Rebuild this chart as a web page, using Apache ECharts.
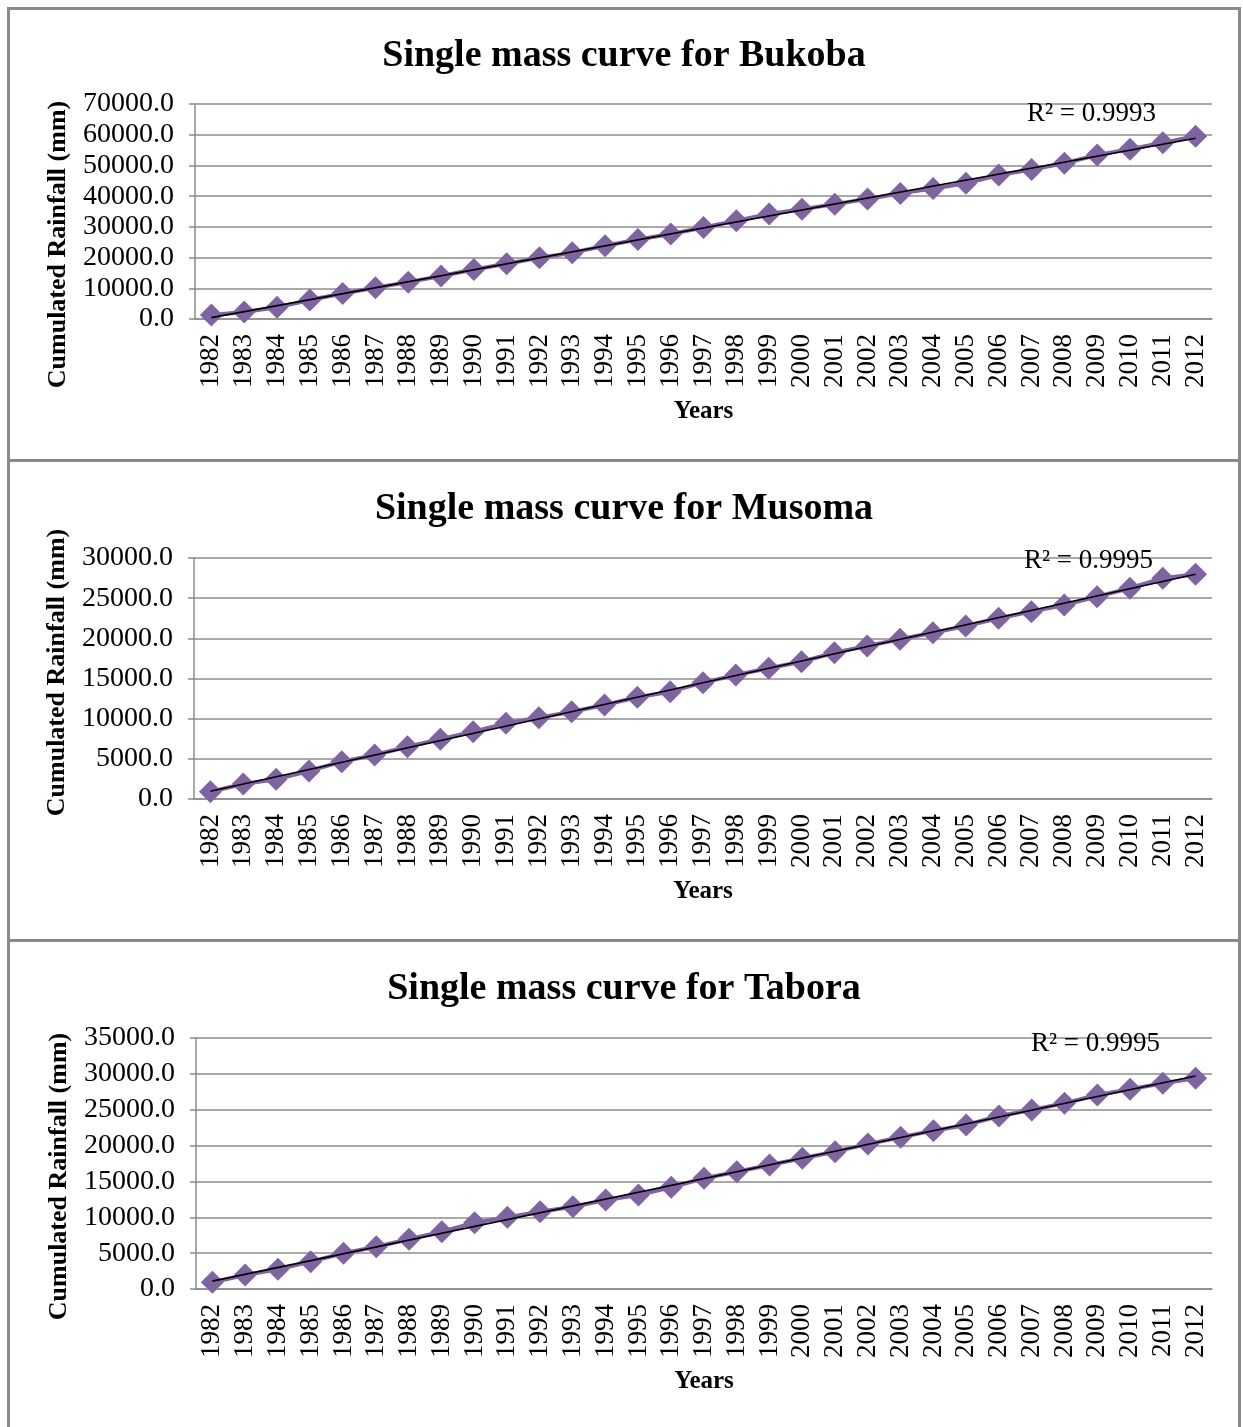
<!DOCTYPE html>
<html>
<head>
<meta charset="utf-8">
<title>Single mass curves</title>
<script src="https://cdn.jsdelivr.net/npm/echarts@6/dist/echarts.min.js"></script>
<style>
  html, body { margin: 0; padding: 0; background: #ffffff; }
  #chart { width: 1243px; height: 1427px; }
</style>
</head>
<body>
<div id="chart"></div>
<script>
// Years on the category axis
const years = ['1982','1983','1984','1985','1986','1987','1988','1989','1990','1991',
  '1992','1993','1994','1995','1996','1997','1998','1999','2000','2001',
  '2002','2003','2004','2005','2006','2007','2008','2009','2010','2011','2012'];

// Cumulated rainfall (mm) per station
const bukoba = [1300, 2300, 3800, 6200, 8300, 10200, 12000, 14000, 16100, 18000,
  19950, 21600, 23850, 25900, 27700, 29800, 32000, 34200, 35700, 37400,
  39100, 40900, 42500, 44200, 46900, 48700, 50700, 53400, 55300, 57400, 59500];
const musoma = [900, 1870, 2450, 3490, 4650, 5480, 6510, 7430, 8380, 9420,
  10120, 10870, 11700, 12660, 13360, 14480, 15440, 16270, 17090, 18210,
  19050, 19880, 20700, 21540, 22500, 23320, 24150, 25190, 26230, 27480, 27970];
const tabora = [930, 1950, 2740, 3810, 4980, 5900, 6930, 7990, 9250, 10000,
  10780, 11480, 12410, 13110, 14180, 15440, 16360, 17290, 18230, 19150,
  20220, 21150, 22080, 22870, 24130, 24960, 25900, 27050, 27850, 28680, 29400];

const stations = ['Bukoba', 'Musoma', 'Tabora'];
const axisMax = [70000, 30000, 35000];
const axisStep = [10000, 5000, 5000];
const r2Text = ['0.9993', '0.9995', '0.9995'];

const PURPLE = '#8064A2';
const GRID_GRAY = '#8c8c8c';
const SERIF = '"Liberation Serif", "Times New Roman", serif';

// Panel geometry (pixels)
const panels = [
  { top: 104, height: 215, left: 195, titleTop: 32, nameShift: 33, r2x: 1027, r2y: 114, boxTop: 8,   boxBottom: 460 },
  { top: 558, height: 241, left: 194, titleTop: 485, nameShift: -6, r2x: 1024, r2y: 561, boxTop: 460, boxBottom: 940 },
  { top: 1038, height: 251, left: 196, titleTop: 965, nameShift: 13, r2x: 1031, r2y: 1044, boxTop: 940, boxBottom: 1440 }
];
const values = [bukoba, musoma, tabora];

// Least-squares linear trend through a series, evaluated at first and last year
function trendEnds(arr) {
  const n = arr.length;
  let sx = 0, sy = 0, sxx = 0, sxy = 0;
  arr.forEach((y, i) => { sx += i; sy += y; sxx += i * i; sxy += i * y; });
  const b = (n * sxy - sx * sy) / (n * sxx - sx * sx);
  const a = (sy - b * sx) / n;
  return arr.map((_, i) => (i === 0 || i === n - 1) ? a + b * i : null);
}

const chart = echarts.init(document.getElementById('chart'), null, { renderer: 'canvas' });

const grid = [], xAxis = [], yAxis = [], series = [], title = [], graphic = [];

panels.forEach((p, k) => {
  grid.push({ left: p.left, right: 31, top: p.top, height: p.height, containLabel: false });

  title.push({
    text: 'Single mass curve for ' + stations[k],
    left: 619, top: p.titleTop, textAlign: 'center',
    textStyle: { fontFamily: SERIF, fontWeight: 'bold', fontSize: 38, color: '#000' }
  });

  xAxis.push({
    type: 'category', gridIndex: k, data: years, boundaryGap: true,
    name: 'Years', nameLocation: 'middle', nameGap: 80,
    nameTextStyle: { fontFamily: SERIF, fontWeight: 'bold', fontSize: 25, color: '#000' },
    axisLine: { show: true, lineStyle: { color: GRID_GRAY, width: 1.5 } },
    axisTick: { show: false },
    axisLabel: { rotate: 90, interval: 0, margin: 15, fontFamily: SERIF, fontSize: 27, color: '#000' },
    splitLine: { show: false }
  });

  const shift = p.nameShift;
  yAxis.push({
    type: 'value', gridIndex: k, min: 0, max: axisMax[k], interval: axisStep[k],
    name: 'Cumulated Rainfall (mm)', nameLocation: 'middle', nameGap: 124,
    nameTextStyle: {
      fontFamily: SERIF, fontWeight: 'bold', fontSize: 26, color: '#000',
      padding: shift >= 0 ? [0, 2 * shift, 0, 0] : [0, 0, 0, -2 * shift]
    },
    axisLine: { show: true, lineStyle: { color: GRID_GRAY, width: 1.5 } },
    axisTick: { show: true, length: 6, lineStyle: { color: GRID_GRAY, width: 1.5 } },
    axisLabel: {
      margin: 21, fontFamily: SERIF, fontSize: 28, color: '#000',
      formatter: v => v.toFixed(1)
    },
    splitLine: { show: true, lineStyle: { color: GRID_GRAY, width: 1.5 } }
  });

  series.push({
    name: stations[k], type: 'line', xAxisIndex: k, yAxisIndex: k,
    data: values[k],
    symbol: 'diamond', symbolSize: 23, showSymbol: true,
    lineStyle: { color: PURPLE, width: 4 },
    itemStyle: { color: PURPLE },
    emphasis: { disabled: true },
    z: 2
  });

  series.push({
    name: stations[k] + ' trend', type: 'line', xAxisIndex: k, yAxisIndex: k,
    data: trendEnds(values[k]), connectNulls: true,
    symbol: 'none',
    lineStyle: { color: '#000', width: 1.6 },
    emphasis: { disabled: true },
    z: 3
  });

  // Panel frame
  graphic.push({
    type: 'rect', silent: true,
    shape: { x: 8.5, y: p.boxTop + 0.5, width: 1231, height: p.boxBottom - p.boxTop },
    style: { fill: 'none', stroke: '#8a8a8a', lineWidth: 3 }
  });

  graphic.push({
    type: 'text', silent: true, x: p.r2x, y: p.r2y,
    style: {
      text: 'R² = ' + r2Text[k], font: '27px ' + SERIF, fill: '#000',
      textVerticalAlign: 'middle', verticalAlign: 'middle'
    },
    z: 10
  });
});

chart.setOption({
  backgroundColor: '#ffffff',
  animation: false,
  title, grid, xAxis, yAxis, series, graphic
});
</script>
</body>
</html>
